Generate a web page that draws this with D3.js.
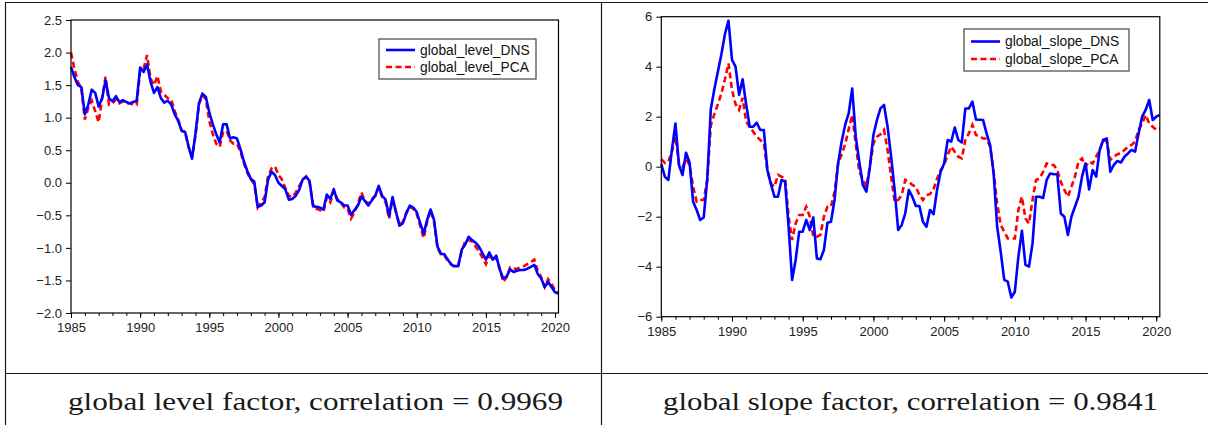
<!DOCTYPE html>
<html>
<head>
<meta charset="utf-8">
<script src="https://cdn.jsdelivr.net/npm/d3@7"></script>
<style>
  html, body { margin: 0; padding: 0; background: #ffffff; }
  svg { display: block; }
</style>
</head>
<body>
<svg id="chart" width="1208" height="425"></svg>
<script>
// ---------------- data (quarterly, 1985Q1 .. 2020Q2) ----------------
const startYear = 1985;
const levelDNS = [
  1.78, 1.62, 1.50, 1.47,   1.05, 1.20, 1.43, 1.38,   1.17, 1.30, 1.57, 1.30,
  1.25, 1.33, 1.24, 1.27,   1.24, 1.22, 1.24, 1.26,   1.77, 1.70, 1.82, 1.55,
  1.38, 1.47, 1.30, 1.23,   1.26, 1.20, 1.05, 0.95,   0.80, 0.78, 0.56, 0.37,
  0.75, 1.22, 1.37, 1.32,   1.08, 0.90, 0.75, 0.62,   0.90, 0.90, 0.68, 0.70,
  0.68, 0.52, 0.33, 0.18,   0.06, 0.02, -0.37, -0.35, -0.30, 0.05, 0.17, 0.12,
  0.00, -0.05, -0.10, -0.26, -0.25, -0.20, -0.11, 0.05, 0.09, 0.03, -0.36, -0.37,
  -0.38, -0.41, -0.18, -0.25, -0.10, -0.27, -0.30, -0.35, -0.35, -0.49, -0.42, -0.35,
  -0.21, -0.28, -0.35, -0.27, -0.20, -0.05, -0.20, -0.26, -0.51, -0.22, -0.45, -0.66,
  -0.62, -0.47, -0.35, -0.38, -0.45, -0.62, -0.78, -0.57, -0.41, -0.57, -0.98, -1.09,
  -1.10, -1.18, -1.26, -1.28, -1.28, -1.03, -0.95, -0.83, -0.88, -0.92, -0.98, -1.08,
  -1.18, -1.07, -1.18, -1.12, -1.33, -1.47, -1.44, -1.33, -1.37, -1.35, -1.34, -1.34,
  -1.32, -1.29, -1.26, -1.40, -1.47, -1.60, -1.52, -1.60, -1.68, -1.70
];
const levelPCA = [
  2.00, 1.75, 1.55, 1.45,   0.97, 1.15, 1.26, 1.10,   0.93, 1.30, 1.63, 1.20,
  1.22, 1.28, 1.22, 1.25,   1.22, 1.22, 1.20, 1.20,   1.72, 1.75, 1.96, 1.60,
  1.50, 1.64, 1.40, 1.35,   1.30, 1.28, 1.10, 0.97,   0.80, 0.78, 0.55, 0.40,
  0.72, 1.20, 1.35, 1.28,   0.95, 0.75, 0.60, 0.55,   0.78, 0.80, 0.65, 0.60,
  0.60, 0.48, 0.30, 0.15,   0.05, -0.02, -0.38, -0.30, -0.22, 0.10, 0.22, 0.25,
  0.12, 0.05, -0.08, -0.20, -0.22, -0.15, -0.05, 0.05, 0.10, 0.00, -0.33, -0.40,
  -0.42, -0.45, -0.22, -0.30, -0.12, -0.25, -0.30, -0.38, -0.40, -0.55, -0.45, -0.32,
  -0.15, -0.28, -0.32, -0.25, -0.20, -0.07, -0.22, -0.30, -0.55, -0.25, -0.45, -0.64,
  -0.60, -0.45, -0.37, -0.40, -0.48, -0.66, -0.85, -0.60, -0.42, -0.60, -1.00, -1.10,
  -1.12, -1.20, -1.25, -1.30, -1.27, -1.05, -0.90, -0.88, -0.90, -0.98, -1.05, -1.15,
  -1.25, -1.12, -1.18, -1.15, -1.32, -1.52, -1.45, -1.30, -1.32, -1.32, -1.30, -1.28,
  -1.25, -1.22, -1.18, -1.35, -1.45, -1.60, -1.48, -1.55, -1.65, -1.70
];
const slopeDNS = [
  0.10, -0.40, -0.53, 0.67,  1.73, 0.07, -0.33, 0.56,  0.16, -1.40, -1.73, -2.13,
  -2.03, -0.50, 2.30, 3.10,  3.80, 4.50, 5.30, 5.84,  4.27, 4.00, 2.87, 3.50,
  2.50, 1.60, 1.60, 1.76,    1.47, 1.47, -0.13, -0.70, -1.20, -1.20, -0.53, -0.60,
  -2.40, -4.53, -3.73, -2.60, -2.60, -2.13, -2.53, -2.03, -3.67, -3.70, -3.33, -2.24,
  -2.20, -1.33, 0.13, 1.00,  1.67, 2.13, 3.13, 1.20,  0.20, -0.73, -1.00, 0.00,
  1.27, 1.87, 2.33, 2.47,    1.60, 0.40, -0.93, -2.53, -2.33, -1.87, -0.93, -1.20,
  -1.57, -1.57, -2.20, -2.40, -1.73, -1.90, -0.93, -0.20, 0.13, 1.07, 1.00, 1.57,
  1.07, 0.97, 2.33, 2.33,    2.60, 1.89, 1.88, 1.87,  1.33, 0.87, -0.27, -2.40,
  -3.40, -4.53, -4.60, -5.23, -5.00, -3.60, -2.56, -3.93, -4.00, -3.07, -1.20, -1.20,
  -1.25, -0.53, -0.27, -0.30, -0.30, -1.87, -2.00, -2.73, -2.00, -1.60, -1.20, -0.40,
  0.13, -0.91, -0.13, -0.40, 0.67, 1.07, 1.13, -0.20,  0.07, 0.23, 0.17, 0.40,
  0.53, 0.67, 0.60, 1.33,    2.00, 2.27, 2.67, 1.87,  2.00, 2.07
];
const slopePCA = [
  0.30, 0.15, 0.20, 0.60,    1.20, 0.10, 0.00, 0.30,  0.07, -0.80, -1.40, -1.33,
  -1.33, -0.53, 1.65, 2.10,  2.50, 2.93, 3.50, 4.13,  3.07, 2.50, 2.27, 2.75,
  1.80, 1.60, 1.40, 1.20,    1.07, 0.93, -0.13, -0.67, -0.80, -0.33, -0.40, -0.45,
  -2.00, -2.93, -2.27, -1.93, -1.93, -1.60, -2.00, -2.80, -2.80, -2.73, -2.00, -1.60,
  -1.60, -1.00, 0.10, 0.50,  0.90, 1.50, 2.07, 0.90,  -0.20, -0.50, -0.80, 0.00,
  0.93, 1.20, 1.30, 1.47,    0.67, -0.40, -1.40, -1.33, -1.13, -0.53, -0.60, -0.73,
  -0.80, -1.13, -1.33, -1.13, -1.10, -0.90, -0.47, -0.15, 0.07, 0.47, 0.80, 0.60,
  0.40, 0.33, 1.07, 1.33,    1.67, 1.27, 1.23, 1.13,  1.13, 0.80, -0.20, -1.47,
  -2.33, -2.60, -2.87, -2.87, -2.87, -1.73, -1.20, -2.07, -2.27, -1.33, -0.53, -0.47,
  -0.20, 0.13, 0.07, 0.07,   -0.13, -0.60, -0.93, -1.20, -0.80, -0.40, 0.20, 0.33,
  0.00, 0.20, 0.13, 0.40,    0.67, 1.07, 1.00, 0.27,  0.40, 0.50, 0.53, 0.67,
  0.80, 0.87, 1.00, 1.47,    1.73, 2.07, 1.73, 1.60,  1.47, 1.53
];
const levelTicks = [-2.0, -1.5, -1.0, -0.5, 0.0, 0.5, 1.0, 1.5, 2.0, 2.5];
const slopeTicks = [-6, -4, -2, 0, 2, 4, 6];
const yearLabels = [1985, 1990, 1995, 2000, 2005, 2010, 2015, 2020];
const levelLegend = ["global_level_DNS", "global_level_PCA"];
const slopeLegend = ["global_slope_DNS", "global_slope_PCA"];
const captions = ["global level factor, correlation = 0.9969",
                  "global slope factor, correlation = 0.9841"];

// ---------------- drawing ----------------
const svg = d3.select("#chart");
const dates = levelDNS.map((_, i) => startYear + i / 4);
const minorYears = d3.range(1985, 2021);

// table borders
const tableColor = "#1a1a1a";
const tbl = svg.append("g").attr("stroke", tableColor).attr("stroke-width", 1.2).attr("fill", "none");
tbl.append("line").attr("x1", 5.5).attr("x2", 5.5).attr("y1", 2).attr("y2", 425);
tbl.append("line").attr("x1", 5).attr("x2", 1208).attr("y1", 2.5).attr("y2", 2.5);
tbl.append("line").attr("x1", 601.5).attr("x2", 601.5).attr("y1", 2).attr("y2", 425);
tbl.append("line").attr("x1", 5).attr("x2", 1208).attr("y1", 373.5).attr("y2", 373.5);

function drawPanel(cfg) {
  const x = d3.scaleLinear().domain([1985, 2020.25]).range([cfg.left, cfg.right]);
  const y = d3.scaleLinear().domain(cfg.yDomain).range([cfg.bottom, cfg.top]);
  const g = svg.append("g");

  // y axis
  const yAxis = d3.axisLeft(y).tickValues(cfg.yTicks).tickSize(5).tickPadding(4)
    .tickFormat(cfg.yFormat);
  const ya = g.append("g").attr("transform", `translate(${cfg.left},0)`).call(yAxis);
  ya.select(".domain").remove();
  ya.selectAll("text").attr("font-family", "Liberation Sans, Arial, sans-serif")
    .attr("font-size", 13).attr("fill", "#222");
  ya.selectAll("line").attr("stroke", "#000");

  // x axis minor ticks
  const xm = g.append("g").attr("transform", `translate(0,${cfg.bottom})`)
    .call(d3.axisBottom(x).tickValues(minorYears).tickSize(3).tickFormat(""));
  xm.select(".domain").remove();
  xm.selectAll("line").attr("stroke", "#000");
  // x axis major ticks
  const xa = g.append("g").attr("transform", `translate(0,${cfg.bottom})`)
    .call(d3.axisBottom(x).tickValues(yearLabels).tickSize(5).tickPadding(5).tickFormat(d3.format("d")));
  xa.select(".domain").remove();
  xa.selectAll("line").attr("stroke", "#000");
  xa.selectAll("text").attr("font-family", "Liberation Sans, Arial, sans-serif")
    .attr("font-size", 13).attr("fill", "#222");

  // lines
  const line = d3.line().x((d, i) => x(dates[i])).y(d => y(d));
  g.append("path").datum(cfg.pca).attr("d", line).attr("fill", "none")
    .attr("stroke", "#ff0000").attr("stroke-width", 2.6).attr("stroke-dasharray", "6,3.5");
  g.append("path").datum(cfg.dns).attr("d", line).attr("fill", "none")
    .attr("stroke", "#0000ff").attr("stroke-width", 2.6).attr("stroke-linejoin", "round");

  // frame
  g.append("rect").attr("x", cfg.left).attr("y", cfg.top)
    .attr("width", cfg.right - cfg.left).attr("height", cfg.bottom - cfg.top)
    .attr("fill", "none").attr("stroke", "#000").attr("stroke-width", 1.2);

  // legend
  const L = cfg.legend;
  const lg = g.append("g");
  lg.append("rect").attr("x", L.x).attr("y", L.y).attr("width", L.w).attr("height", L.h)
    .attr("fill", "#fff").attr("stroke", "#444").attr("stroke-width", 1.2);
  const styles = [{c: "#0000ff", d: null}, {c: "#ff0000", d: "6,3.5"}];
  cfg.legendLabels.forEach((lab, i) => {
    const yy = L.y + L.row0 + i * L.rowGap;
    lg.append("line").attr("x1", L.x + 7).attr("x2", L.x + 36).attr("y1", yy).attr("y2", yy)
      .attr("stroke", styles[i].c).attr("stroke-width", 2.6)
      .attr("stroke-dasharray", styles[i].d);
    lg.append("text").attr("x", L.x + 41).attr("y", yy).attr("dy", "0.35em")
      .attr("font-family", "Liberation Sans, Arial, sans-serif").attr("font-size", 13.8)
      .attr("fill", "#111").text(lab);
  });

  // caption
  svg.append("text").attr("x", cfg.capX).attr("y", 410)
    .attr("font-family", "Liberation Serif, Times New Roman, serif").attr("font-size", 26)
    .attr("fill", "#1a1a1a").attr("textLength", 495).attr("lengthAdjust", "spacingAndGlyphs")
    .text(cfg.caption);
}

drawPanel({
  left: 71, right: 558.5, top: 20, bottom: 313,
  yDomain: [-2, 2.5], yTicks: levelTicks, yFormat: d3.format(".1f"),
  dns: levelDNS, pca: levelPCA,
  legend: {x: 379, y: 39, w: 157, h: 40, row0: 11, rowGap: 17},
  legendLabels: levelLegend,
  caption: captions[0], capX: 68
});
drawPanel({
  left: 661.3, right: 1159.8, top: 16.7, bottom: 316.7,
  yDomain: [-6, 6], yTicks: slopeTicks, yFormat: d3.format("d"),
  dns: slopeDNS, pca: slopePCA,
  legend: {x: 964, y: 29, w: 165, h: 42, row0: 12.5, rowGap: 17.5},
  legendLabels: slopeLegend,
  caption: captions[1], capX: 663
});
</script>
</body>
</html>
